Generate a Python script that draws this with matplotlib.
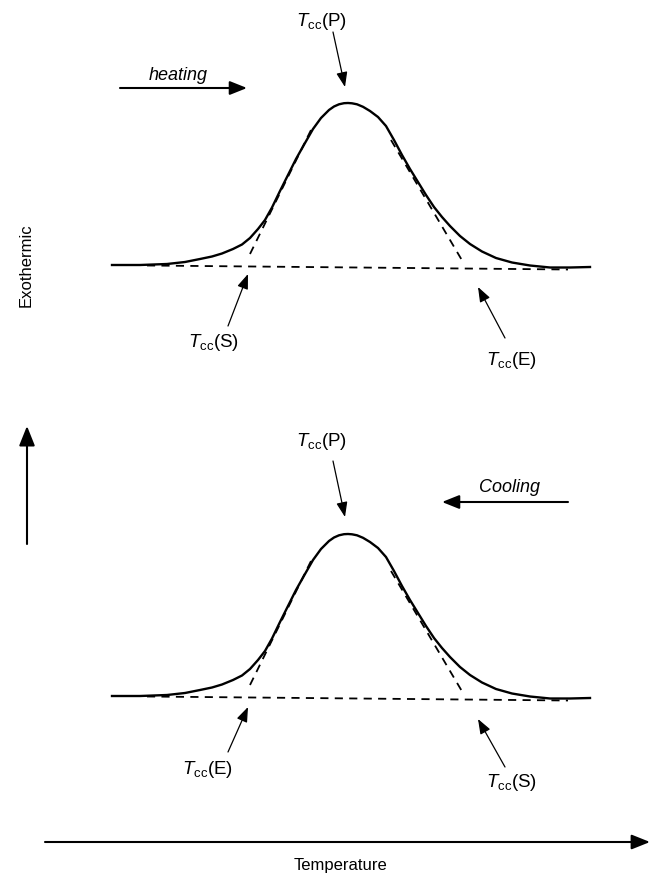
#!/usr/bin/env python3
"""
Schematic DSC traces: cold crystallisation peak on heating and on cooling,
with onset / peak / end temperatures marked by tangent construction.
"""

import matplotlib

matplotlib.use("Agg")
import matplotlib.pyplot as plt

# trace read in canvas units (x = temperature, y grows downward)
temp = [112, 140, 167, 185, 200, 212, 222, 233, 242, 250, 258, 265, 272, 280,
        288, 296, 305, 313, 321, 329, 334, 339, 344, 348, 352, 357, 363, 370,
        378, 386, 394, 402, 410, 418, 426, 434, 442, 450, 460, 470, 482, 496,
        512, 530, 550, 570, 590]
signal = [266, 266, 265, 263, 260, 257.5, 254.5, 250, 245.5, 239, 230, 221,
          208.5, 192, 176, 160, 144, 130, 119, 111, 107.5, 105.3, 104.2, 104,
          104.3, 105.3, 107.8, 112, 118, 127, 141, 156, 170, 183, 196, 208,
          218, 227, 237, 245, 252.5, 259, 263.5, 266.5, 268.5, 268.5, 268]

# tangent construction (start, end) for the same trace
baseline = [(147, 266.5), (568, 270.5)]
lead_tangent = [(250, 255), (311, 131)]
tail_tangent = [(391, 141), (463, 263)]

# label text, label centre, arrow start, arrow tip (heating panel)
heating_labels = [
    ("P", (321, 21), (333, 33), (345, 88)),
    ("S", (213, 343), (228, 327), (248, 275)),
    ("E", (511, 361), (505, 339), (478, 288)),
]
# cooling panel uses its own coordinates
cooling_labels = [
    ("P", (321, 442), (333, 462), (345, 518)),
    ("E", (207, 770), (228, 753), (248, 708)),
    ("S", (511, 783), (505, 768), (478, 720)),
]

PANEL_SHIFT = 431
W, H = 659, 879

plt.rcParams["font.family"] = ["Liberation Sans", "DejaVu Sans"]
plt.rcParams["mathtext.fontset"] = "custom"
plt.rcParams["mathtext.rm"] = "Liberation Sans"
plt.rcParams["mathtext.it"] = "Liberation Sans:italic"


def pointer(ax, start, tip):
    ax.annotate("", xy=tip, xytext=start,
                arrowprops=dict(arrowstyle="-|>,head_length=0.75,head_width=0.28",
                                mutation_scale=12, lw=0.9, color="black",
                                shrinkA=0, shrinkB=0))


def big_arrow(ax, start, tip, scale=13):
    ax.annotate("", xy=tip, xytext=start,
                arrowprops=dict(arrowstyle="-|>,head_length=0.8,head_width=0.32",
                                mutation_scale=scale, lw=1.5, color="black",
                                shrinkA=0, shrinkB=0))


def draw_trace(ax, shift):
    ys = [s + shift for s in signal]
    ax.plot(temp, ys, color="black", lw=1.7, solid_joinstyle="round")
    for seg in (baseline, lead_tangent, tail_tangent):
        ax.plot([p[0] for p in seg], [p[1] + shift for p in seg],
                color="black", lw=1.3, ls=(0, (4.5, 3.5)))


def draw_labels(ax, labels):
    for tag, centre, start, tip in labels:
        ax.text(centre[0], centre[1], r"$T_{\rm cc}$(" + tag + ")",
                ha="center", va="center", fontsize=13.5)
        pointer(ax, start, tip)


def main():
    fig = plt.figure(figsize=(W / 100, H / 100), dpi=100)
    ax = fig.add_axes([0, 0, 1, 1])
    ax.set_xlim(0, W)
    ax.set_ylim(H, 0)
    ax.axis("off")

    draw_trace(ax, 0)
    draw_trace(ax, PANEL_SHIFT)
    draw_labels(ax, heating_labels)
    draw_labels(ax, cooling_labels)

    ax.text(178, 75, "heating", style="italic", ha="center", va="center", fontsize=13)
    big_arrow(ax, (120, 89), (247, 89))
    ax.text(510, 488, "Cooling", style="italic", ha="center", va="center", fontsize=13)
    big_arrow(ax, (568, 503), (442, 503))

    ax.text(26, 265, "Exothermic", rotation=90, ha="center", va="center", fontsize=12)
    big_arrow(ax, (27, 545), (27, 427), scale=15)
    ax.text(340, 866, "Temperature", ha="center", va="center", fontsize=12)
    big_arrow(ax, (45, 843), (650, 843), scale=14)

    fig.savefig("out.png", dpi=100)
    plt.close(fig)


if __name__ == "__main__":
    main()
